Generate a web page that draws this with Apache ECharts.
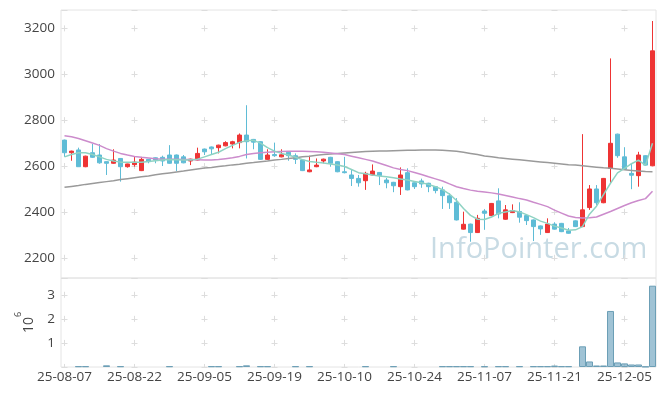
<!DOCTYPE html>
<html>
<head>
<meta charset="utf-8">
<script src="https://cdn.jsdelivr.net/npm/echarts@6/dist/echarts.min.js"></script>
<style>html,body{margin:0;padding:0;background:#fff;}#c{width:665px;height:396px;}</style>
</head>
<body>
<div id="c"></div>
<script>
const dates = ["25-08-07","25-08-08","25-08-11","25-08-12","25-08-13","25-08-14","25-08-18","25-08-19","25-08-20","25-08-21","25-08-22","25-08-25","25-08-26","25-08-27","25-08-28","25-08-29","25-09-01","25-09-02","25-09-03","25-09-04","25-09-05","25-09-08","25-09-09","25-09-10","25-09-11","25-09-12","25-09-15","25-09-16","25-09-17","25-09-18","25-09-19","25-09-22","25-09-23","25-09-24","25-09-25","25-09-26","25-09-29","25-09-30","25-10-01","25-10-02","25-10-10","25-10-13","25-10-14","25-10-15","25-10-16","25-10-17","25-10-20","25-10-21","25-10-22","25-10-23","25-10-24","25-10-27","25-10-28","25-10-29","25-10-30","25-10-31","25-11-03","25-11-04","25-11-05","25-11-06","25-11-07","25-11-10","25-11-11","25-11-12","25-11-13","25-11-14","25-11-17","25-11-18","25-11-19","25-11-20","25-11-21","25-11-24","25-11-25","25-11-26","25-11-27","25-11-28","25-12-01","25-12-02","25-12-03","25-12-04","25-12-05","25-12-08","25-12-09","25-12-10","25-12-11"];

const opens  = [2713,2658,2670,2597,2658,2648,2619,2612,2633,2597,2606,2580,2629,2636,2638,2648,2648,2640,2622,2626,2674,2683,2680,2688,2696,2702,2735,2716,2706,2629,2650,2640,2660,2645,2626,2575,2597,2622,2638,2619,2575,2561,2546,2536,2561,2572,2539,2529,2510,2571,2527,2535,2525,2510,2496,2470,2442,2325,2347,2310,2404,2384,2448,2368,2397,2402,2384,2365,2339,2310,2347,2350,2317,2361,2336,2419,2500,2440,2590,2739,2640,2568,2558,2645,2601];
const closes = [2658,2665,2597,2643,2638,2614,2612,2626,2597,2609,2617,2629,2619,2626,2622,2612,2612,2614,2630,2655,2662,2675,2691,2702,2706,2735,2706,2704,2629,2648,2645,2649,2645,2629,2580,2583,2604,2630,2612,2575,2571,2546,2527,2568,2578,2558,2527,2514,2561,2496,2510,2522,2510,2493,2471,2440,2365,2346,2310,2372,2394,2437,2391,2409,2406,2377,2362,2336,2326,2347,2325,2314,2307,2336,2409,2500,2440,2546,2699,2645,2586,2560,2648,2604,3102];
const lows   = [2640,2623,2597,2595,2635,2610,2561,2610,2532,2593,2597,2578,2612,2612,2600,2610,2578,2612,2604,2624,2648,2648,2655,2686,2677,2677,2633,2673,2627,2627,2640,2638,2623,2609,2578,2573,2595,2612,2597,2573,2568,2513,2510,2496,2559,2517,2503,2486,2474,2494,2500,2505,2486,2481,2413,2413,2363,2323,2270,2308,2322,2382,2372,2366,2395,2353,2343,2273,2300,2308,2323,2312,2305,2334,2334,2409,2430,2438,2525,2636,2584,2499,2510,2600,2599];
const highs  = [2715,2667,2680,2645,2696,2696,2620,2673,2635,2610,2640,2640,2630,2638,2645,2691,2650,2648,2632,2680,2676,2685,2693,2708,2710,2742,2865,2718,2708,2673,2702,2673,2665,2655,2626,2645,2633,2632,2640,2621,2640,2583,2561,2575,2607,2574,2548,2531,2594,2590,2529,2545,2527,2512,2510,2481,2460,2401,2349,2387,2412,2439,2503,2430,2433,2442,2386,2367,2341,2372,2355,2352,2330,2363,2739,2517,2517,2548,3069,2741,2682,2612,2662,2647,3232];

const ma5  = [2640,2650,2658,2658,2650,2640,2629,2622,2617,2616,2616,2616,2620,2623,2626,2628,2627,2626,2626,2630,2640,2650,2660,2676,2690,2703,2710,2712,2700,2680,2665,2655,2648,2638,2628,2620,2616,2613,2609,2604,2598,2585,2571,2566,2561,2557,2553,2549,2543,2539,2533,2527,2520,2510,2497,2478,2450,2415,2385,2368,2367,2378,2394,2400,2406,2400,2388,2375,2360,2350,2338,2330,2320,2322,2336,2390,2425,2475,2525,2570,2590,2610,2626,2603,2699];
const ma20 = [2732,2728,2720,2710,2700,2690,2676,2665,2655,2648,2642,2638,2635,2632,2630,2629,2629,2628,2628,2627,2626,2626,2628,2632,2636,2642,2650,2655,2658,2660,2662,2663,2664,2664,2664,2663,2662,2660,2657,2654,2650,2643,2636,2629,2622,2612,2602,2592,2585,2580,2572,2563,2553,2544,2535,2522,2510,2502,2495,2490,2487,2483,2478,2472,2465,2458,2452,2442,2433,2423,2408,2395,2382,2376,2373,2375,2378,2390,2402,2415,2428,2440,2450,2458,2490];
const ma60 = [2507,2511,2515,2520,2524,2528,2532,2536,2541,2545,2549,2553,2557,2562,2566,2570,2574,2578,2583,2587,2591,2594,2598,2601,2605,2608,2612,2615,2619,2622,2626,2629,2633,2636,2640,2643,2647,2650,2652,2655,2657,2659,2661,2663,2664,2665,2666,2667,2668,2669,2669,2670,2670,2670,2669,2667,2664,2660,2655,2650,2644,2640,2636,2633,2630,2627,2624,2621,2618,2615,2612,2609,2606,2604,2601,2598,2595,2592,2590,2587,2584,2581,2578,2576,2575];

const volumes = [0,0,30000,30000,0,0,70000,0,30000,0,0,0,0,0,0,30000,0,0,0,0,0,30000,30000,0,0,30000,70000,0,30000,30000,0,0,0,30000,0,30000,0,0,0,0,0,0,0,30000,0,0,0,30000,0,0,0,0,0,0,30000,30000,30000,30000,30000,0,30000,0,30000,30000,0,30000,0,30000,30000,30000,60000,30000,30000,0,860000,230000,63000,63000,2330000,190000,150000,105000,105000,15000,3380000];

const priceTicks = [2200,2400,2600,2800,3000,3200];
const volTicks = [1,2,3];

const candleData = dates.map((d,i)=>[opens[i],closes[i],lows[i],highs[i]]);
const volData = volumes.map(v => v > 0 ? v : '-');
const UP = '#ee3434', DOWN = '#5fbcd6';
const gridCol = '#dddddd';
const font = 'Open Sans';

const chart = echarts.init(document.getElementById('c'), null, {renderer:'canvas'});
chart.setOption({
  animation: false,
  backgroundColor: '#fff',
  textStyle: {fontFamily: font},
  grid: [
    {left: 61, top: 10, width: 595, height: 268, show: true, borderColor: '#e4e4e4', borderWidth: 1},
    {left: 61, top: 278, width: 595, height: 89, show: true, borderColor: '#e4e4e4', borderWidth: 1}
  ],
  xAxis: [
    {type:'category', gridIndex:0, data: dates, boundaryGap: true,
     axisLine:{show:false}, axisTick:{show:false}, axisLabel:{show:false},
     splitLine:{show:true, interval:9, alignWithLabel:true, lineStyle:{color:gridCol, width:1, type:[6,39.89], dashOffset:30.53}}},
    {type:'category', gridIndex:1, data: dates, boundaryGap: true,
     axisLine:{show:false}, axisTick:{show:false},
     axisLabel:{show:true, interval:9, color:'#444', fontSize:13.5, fontFamily:font, margin:3},
     splitLine:{show:true, interval:9, alignWithLabel:true, lineStyle:{color:gridCol, width:1, type:[6,18.05], dashOffset:10.25}}}
  ],
  yAxis: [
    {type:'value', gridIndex:0, min:2112, max:3280, splitNumber:5, scale:true,
     axisLine:{show:false}, axisTick:{show:false},
     axisLabel:{color:'#444', fontSize:13.5, fontFamily:font, margin:6, showMinLabel:false, showMaxLabel:false,
       formatter: v => priceTicks.indexOf(v) >= 0 ? String(v) : ''},
     splitLine:{show:true, lineStyle:{color:gridCol, width:1, type:[6,64], dashOffset:69.5}}},
    {type:'value', gridIndex:1, min:0, max:3.7e6, interval:1e6,
     axisLine:{show:false}, axisTick:{show:false},
     axisLabel:{color:'#444', fontSize:13.5, fontFamily:font, margin:6, showMaxLabel:false,
       formatter: v => volTicks.indexOf(v/1e6) >= 0 ? String(v/1e6) : ''},
     splitLine:{show:true, lineStyle:{color:gridCol, width:1, type:[6,64], dashOffset:69.5}},
     name:'{a|10}{b|6}', nameLocation:'middle', nameRotate:90, nameGap:21,
     nameTextStyle:{rich:{a:{fontSize:14, color:'#444', fontFamily:font, lineHeight:22, verticalAlign:'bottom'},
                          b:{fontSize:9, color:'#444', fontFamily:font, lineHeight:22, verticalAlign:'top'}}}}
  ],
  graphic: [{
    type:'text', left: 430, top: 235, z: 0, silent: true,
    style:{text:'InfoPointer.com', fill:'#c8dbe4', font:'29px "Open Sans"'}
  }],
  series: [
    {type:'candlestick', xAxisIndex:0, yAxisIndex:0, data: candleData, barWidth:5, z:3,
     itemStyle:{color:UP, color0:DOWN, borderColor:UP, borderColor0:DOWN, borderWidth:1}},
    {type:'line', xAxisIndex:0, yAxisIndex:0, data: ma60, symbol:'none', z:4,
     lineStyle:{color:'#9a9a9a', width:1.5}},
    {type:'line', xAxisIndex:0, yAxisIndex:0, data: ma20, symbol:'none', z:4,
     lineStyle:{color:'#cc8ccc', width:1.5}},
    {type:'line', xAxisIndex:0, yAxisIndex:0, data: ma5, symbol:'none', z:4,
     lineStyle:{color:'#8fd3c3', width:1.5}},
    {type:'bar', xAxisIndex:1, yAxisIndex:1, data: volData, barCategoryGap:'0%',
     itemStyle:{color:'rgba(120,170,195,0.7)', borderColor:'#6c9fb6', borderWidth:1}}
  ]
});
</script>
</body>
</html>
